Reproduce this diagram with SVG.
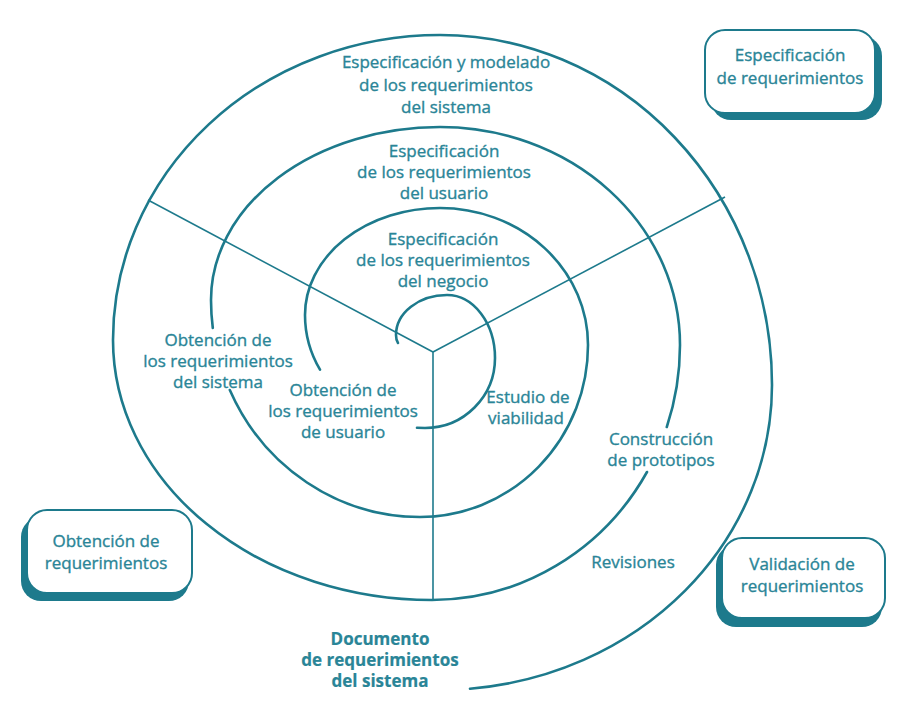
<svg xmlns="http://www.w3.org/2000/svg" width="912" height="707" viewBox="0 0 912 707">
<style>
.sp{fill:none;stroke:#1d7a8c;stroke-width:2.6;stroke-linecap:round}
.ln{fill:none;stroke:#1d7a8c;stroke-width:1.6}
.t{font-family:"Open Sans","Noto Sans",sans-serif;font-size:17px;fill:#2a8597;stroke:#2a8597;stroke-width:0.35;text-anchor:middle}
.b{font-weight:bold;stroke-width:0.2}
.bx{fill:#ffffff;stroke:#1d7a8c;stroke-width:2}
.sh{fill:#1d7a8c}
</style>
<rect width="912" height="707" fill="#ffffff"/>
<g id="connectors">
  <path class="ln" d="M433 352 L148 200"/>
  <path class="ln" d="M433 352 L725 197"/>
  <path class="ln" d="M433 352 L433 600"/>
  <g id="spiral">
    <path class="sp" d="M398 343 Q396 340 396 335 A51 40 0 0 1 447 295 A48 63 0 0 1 495 358 A70 70 0 0 1 425 428 L417 427.7"/>
    <path class="sp" d="M320 369.7 A120 113 0 0 1 305 315 A135 107 0 0 1 440 208 A148 137 0 0 1 588 345 A168 172 0 0 1 420 517 A209 217 0 0 1 229.8 390"/>
    <path class="sp" d="M212.8 328 A209 217 0 0 1 211 300 A229 173 0 0 1 440 127 A240 218 0 0 1 680 345 A248 255 0 0 1 666.8 427"/>
    <path class="sp" d="M647 472 A248 255 0 0 1 432 600 A319 260 0 0 1 113 340 A327 305 0 0 1 440 35 A332 350 0 0 1 772 385 A332 305 0 0 1 470 688.7"/>
  </g>
</g>
<g id="lbl-spec-sistema" class="t">
  <text x="446" y="68">Especificación y modelado</text>
  <text x="446" y="91">de los requerimientos</text>
  <text x="446" y="113">del sistema</text>
</g>
<g id="lbl-spec-usuario" class="t">
  <text x="444" y="157">Especificación</text>
  <text x="444" y="178">de los requerimientos</text>
  <text x="444" y="199">del usuario</text>
</g>
<g id="lbl-spec-negocio" class="t">
  <text x="443" y="245">Especificación</text>
  <text x="443" y="266">de los requerimientos</text>
  <text x="443" y="287">del negocio</text>
</g>
<g id="lbl-obt-sistema" class="t">
  <text x="218" y="346">Obtención de</text>
  <text x="218" y="367">los requerimientos</text>
  <text x="218" y="388">del sistema</text>
</g>
<g id="lbl-obt-usuario" class="t">
  <text x="343" y="396">Obtención de</text>
  <text x="343" y="417">los requerimientos</text>
  <text x="343" y="438">de usuario</text>
</g>
<g id="lbl-viabilidad" class="t">
  <text x="528" y="403">Estudio de</text>
  <text x="526" y="424">viabilidad</text>
</g>
<g id="lbl-prototipos" class="t">
  <text x="661" y="445">Construcción</text>
  <text x="661" y="466">de prototipos</text>
</g>
<g id="lbl-revisiones" class="t">
  <text x="633" y="568">Revisiones</text>
</g>
<g id="lbl-documento" class="t b">
  <text x="380" y="645">Documento</text>
  <text x="380" y="666">de requerimientos</text>
  <text x="380" y="687">del sistema</text>
</g>
<g id="box-especificacion">
  <rect class="sh" x="711" y="36" width="171" height="84" rx="20"/>
  <rect class="bx" x="705" y="30" width="170" height="83" rx="20"/>
  <text class="t" x="790" y="61">Especificación</text>
  <text class="t" x="790" y="84">de requerimientos</text>
</g>
<g id="box-obtencion">
  <rect class="sh" x="21" y="517" width="168" height="84" rx="20"/>
  <rect class="bx" x="27" y="510" width="165" height="83" rx="20"/>
  <text class="t" x="106" y="547">Obtención de</text>
  <text class="t" x="106" y="569">requerimientos</text>
</g>
<g id="box-validacion">
  <rect class="sh" x="716" y="545" width="166" height="82" rx="20"/>
  <rect class="bx" x="722" y="538" width="163" height="80" rx="20"/>
  <text class="t" x="802" y="570">Validación de</text>
  <text class="t" x="802" y="592">requerimientos</text>
</g>
</svg>
